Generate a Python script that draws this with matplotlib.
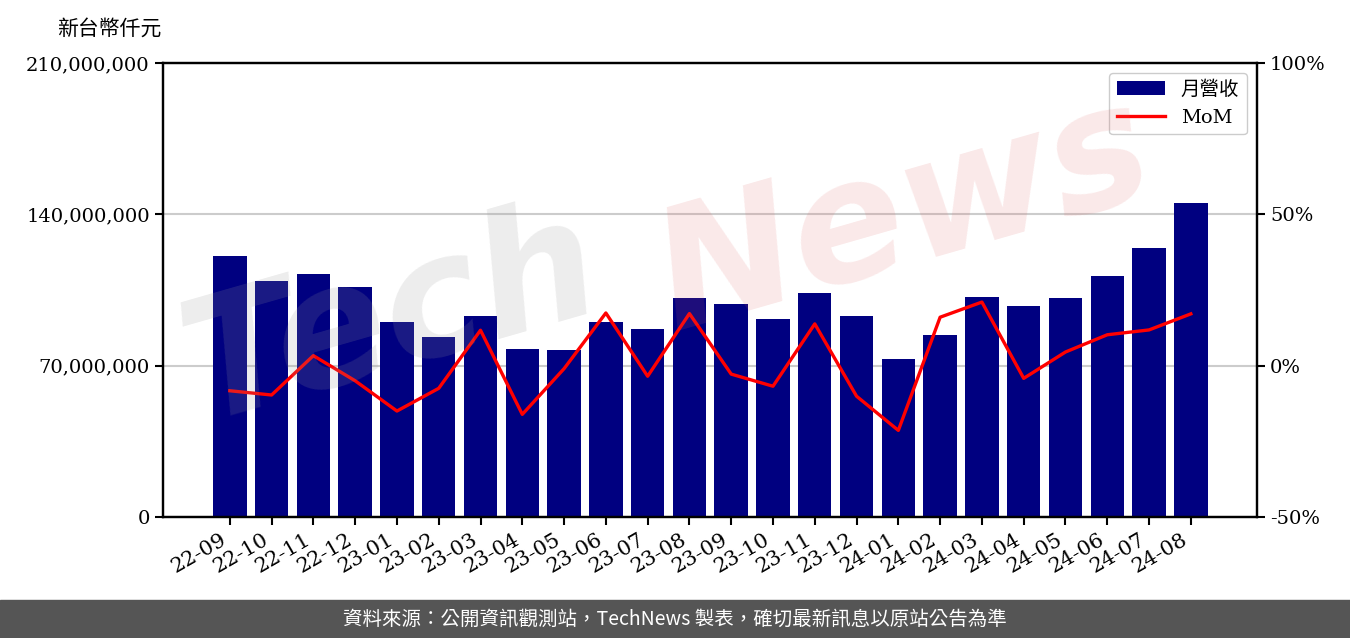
import matplotlib
matplotlib.use('Agg')
import matplotlib.pyplot as plt
from matplotlib.ticker import FuncFormatter
import numpy as np

# monthly revenue (thousand NTD) and MoM change (%)
months = ['22-09', '22-10', '22-11', '22-12', '23-01', '23-02', '23-03', '23-04',
          '23-05', '23-06', '23-07', '23-08', '23-09', '23-10', '23-11', '23-12',
          '24-01', '24-02', '24-03', '24-04', '24-05', '24-06', '24-07', '24-08']
revenue = [120.7, 109.2, 112.4, 106.4, 90.2, 83.3, 93.0, 77.7,
           77.2, 90.2, 87.0, 101.3, 98.5, 91.6, 103.6, 93.0,
           73.1, 84.2, 101.8, 97.6, 101.3, 111.5, 124.4, 145.2]
revenue = [v * 1e6 for v in revenue]
mom = [-8.3, -9.7, 3.3, -5.0, -15.0, -7.5, 11.7, -16.1,
       -1.0, 17.4, -3.5, 17.2, -2.8, -6.8, 13.8, -10.1,
       -21.4, 16.0, 21.0, -4.2, 4.5, 10.2, 11.8, 17.1]

plt.rcParams['font.family'] = ['DejaVu Serif', 'Noto Sans CJK TC']

fig = plt.figure(figsize=(13.5, 6.38), dpi=100)
ax = fig.add_axes([0.1207, 0.1897, 0.8103, 0.7116])
ax2 = ax.twinx()

x = np.arange(len(months))
bars = ax.bar(x, revenue, width=0.8, color='#000080', label='月營收', zorder=2)
line, = ax2.plot(x, mom, color='red', lw=2.4, label='MoM', zorder=3)

ax.set_xlim(-1.6, 24.58)
ax.set_ylim(0, 210e6)
ax.set_yticks([0, 70e6, 140e6, 210e6])
ax.yaxis.set_major_formatter(FuncFormatter(lambda v, p: f'{int(v):,}'))
ax.grid(axis='y', color='#cccccc', lw=1.5, zorder=0)
ax.set_axisbelow(True)
ax.set_xticks(x)
ax.set_xticklabels(months, rotation=30, ha='right')

ax2.set_ylim(-50, 100)
ax2.set_yticks([-50, 0, 50, 100])
ax2.yaxis.set_major_formatter(FuncFormatter(lambda v, p: f'{int(v)}%'))

for a in (ax, ax2):
    for s in a.spines.values():
        s.set_linewidth(1.6)
    a.tick_params(labelsize=14, width=1.5, length=6)
ax.tick_params(axis='x', labelsize=15)

ax.legend(handles=[bars, line], loc='upper right', fontsize=14, handlelength=2.5,
          fancybox=True, framealpha=1, edgecolor='#cccccc')

fig.text(0.042, 0.955, '新台幣仟元', fontsize=15, family=['Noto Sans CJK TC'], va='center')

# watermark
fig.text(0.29, 0.50, 'Tech', fontsize=120, fontweight='bold', fontstyle='italic',
         family='DejaVu Sans', color='#999999', alpha=0.18, rotation=16,
         ha='center', va='center', zorder=10)
fig.text(0.67, 0.66, 'News', fontsize=120, fontweight='bold', fontstyle='italic',
         family='DejaVu Sans', color='#e06060', alpha=0.14, rotation=16,
         ha='center', va='center', zorder=10)

# footer
fig.patches.append(plt.Rectangle((0, 0), 1, 38 / 638, transform=fig.transFigure,
                                 color='#555555', zorder=0))
fig.text(0.5, 19 / 638, '資料來源：公開資訊觀測站，TechNews 製表，確切最新訊息以原站公告為準',
         color='white', fontsize=14, family=['Noto Sans CJK TC'], ha='center', va='center')

fig.savefig('out.png', dpi=100)
